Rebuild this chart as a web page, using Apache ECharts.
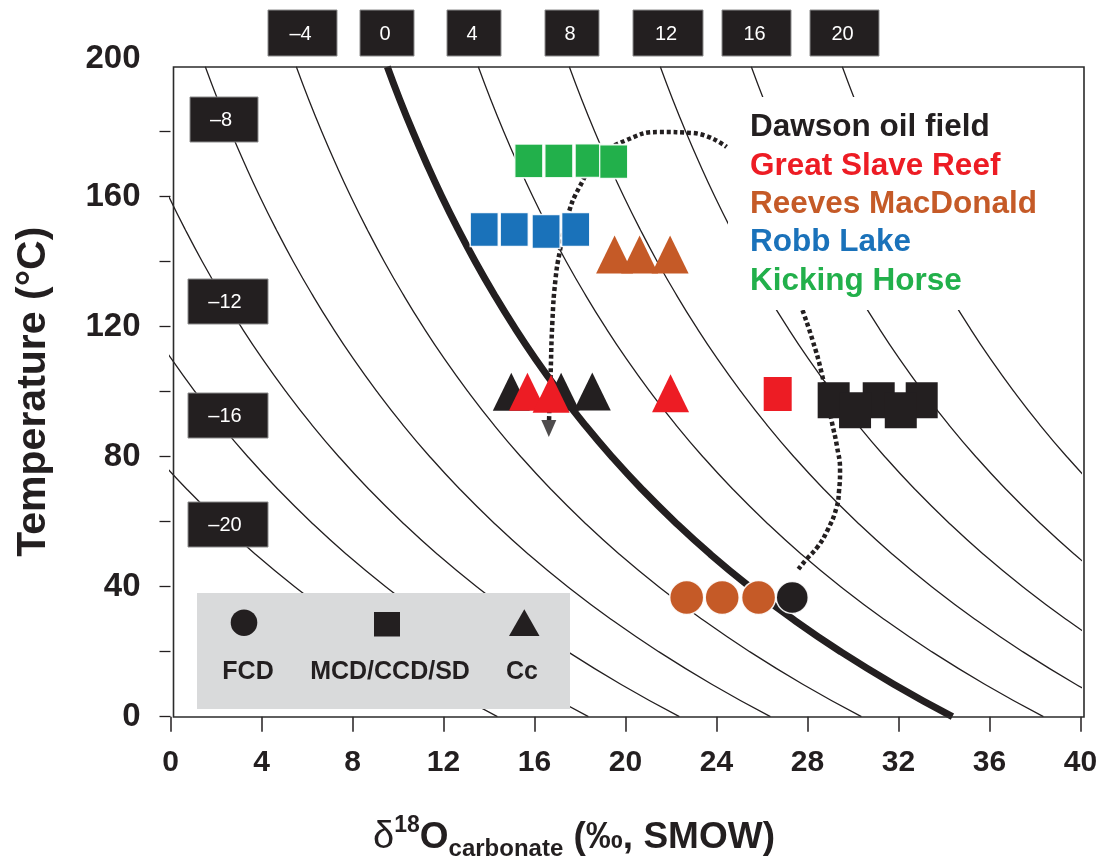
<!DOCTYPE html>
<html><head><meta charset="utf-8">
<script src="https://cdn.jsdelivr.net/npm/echarts@6/dist/echarts.min.js"></script>
<style>html,body{margin:0;padding:0;background:#fff}#c{width:1097px;height:857px}</style>
</head><body><div id="c"></div>
<script>
// ---- temperatures (°C) at which each water-δ18O isoline was read ----
const curveTemps = [0,10,20,30,40,50,60,70,80,90,100,110,120,130,140,150,160,170,180,190,200];
// ---- δ18O carbonate values along each isoline (δ18O water label) ----
const waterLabels = ['–20','–16','–12','–8','–4','0','4','8','12','16','20'];
const curveWm20 = [14.37,11.79,9.46,7.36,5.46,3.73,2.16,0.72,-0.60,-1.81];
const curveWm16 = [18.37,15.79,13.46,11.36,9.46,7.73,6.16,4.72,3.40,2.19,1.08,0.05,-0.90];
const curveWm12 = [22.37,19.79,17.46,15.36,13.46,11.73,10.16,8.72,7.40,6.19,5.08,4.05,3.10,2.22,1.40,0.64,-0.07,-0.73];
const curveWm8  = [26.37,23.79,21.46,19.36,17.46,15.73,14.16,12.72,11.40,10.19,9.08,8.05,7.10,6.22,5.40,4.64,3.93,3.27,2.65,2.07,1.53];
const curveWm4  = [30.37,27.79,25.46,23.36,21.46,19.73,18.16,16.72,15.40,14.19,13.08,12.05,11.10,10.22,9.40,8.64,7.93,7.27,6.65,6.07,5.53];
const curveW0   = [34.37,31.79,29.46,27.36,25.46,23.73,22.16,20.72,19.40,18.19,17.08,16.05,15.10,14.22,13.40,12.64,11.93,11.27,10.65,10.07,9.53];
const curveW4   = [38.37,35.79,33.46,31.36,29.46,27.73,26.16,24.72,23.40,22.19,21.08,20.05,19.10,18.22,17.40,16.64,15.93,15.27,14.65,14.07,13.53];
const curveW8   = [42.37,39.79,37.46,35.36,33.46,31.73,30.16,28.72,27.40,26.19,25.08,24.05,23.10,22.22,21.40,20.64,19.93,19.27,18.65,18.07,17.53];
const curveW12  = [46.37,43.79,41.46,39.36,37.46,35.73,34.16,32.72,31.40,30.19,29.08,28.05,27.10,26.22,25.40,24.64,23.93,23.27,22.65,22.07,21.53];
const curveW16  = [50.37,47.79,45.46,43.36,41.46,39.73,38.16,36.72,35.40,34.19,33.08,32.05,31.10,30.22,29.40,28.64,27.93,27.27,26.65,26.07,25.53];
const curveW20  = [54.37,51.79,49.46,47.36,45.46,43.73,42.16,40.72,39.40,38.19,37.08,36.05,35.10,34.22,33.40,32.64,31.93,31.27,30.65,30.07,29.53];
const curves = [curveWm20,curveWm16,curveWm12,curveWm8,curveWm4,curveW0,curveW4,curveW8,curveW12,curveW16,curveW20];

// ---- samples: [δ18O carbonate, temperature] ----
const dawsonCc  = [[14.98,100.0],[17.17,100.0],[18.54,100.1]];
const gsrCc     = [[15.69,100.0],[16.73,99.4],[21.98,99.5]];
const gsrSq     = [[26.69,99.3]];
const reevesCc  = [[19.52,142.2],[20.62,142.2],[21.96,142.2]];
const reevesFcd = [[22.69,36.7],[24.25,36.7],[25.85,36.7]];
const dawsonFcd = [[27.33,36.7]];
const robbSq    = [[13.79,149.9],[15.11,149.9],[16.51,149.3],[17.81,149.9]];
const khSq      = [[15.75,171.0],[17.07,171.0],[18.40,171.1],[19.48,170.8]];
const dawsonSq  = [[29.15,97.4],[31.13,97.4],[33.02,97.4],[30.09,94.3],[32.10,94.3]];

// ---- dotted paths ----
const pathArrow = [[16.64,91.3],[16.70,103.6],[16.79,122.1],[16.92,134.4],[17.10,142.7],[17.45,153.8],[17.98,163.0],[18.86,172.2],[20.04,177.4],[21.49,179.9],[22.95,179.6],[24.44,175.3]];
const arrowTip  = [[16.63,88.7]];
const pathDawson = [[27.78,125.1],[28.22,115.9],[28.62,105.8],[29.07,90.7],[29.30,83.0],[29.43,75.9],[29.39,69.8],[29.27,64.2],[28.88,57.4],[28.44,52.2],[28.00,48.8],[27.60,45.4]];

// ---- text / ticks ----
const xTicks = [0,4,8,12,16,20,24,28,32,36,40];
const yTickValues = [0,20,40,60,80,100,120,140,160,180];
const topLabels = ['–4','0','4','8','12','16','20'];
const leftLabels = ['–8','–12','–16','–20'];
const siteNames = ['Dawson oil field','Great Slave Reef','Reeves MacDonald','Robb Lake','Kicking Horse'];
const typeNames = ['FCD','MCD/CCD/SD','Cc'];

const INK = '#231f20', RED = '#ed1c24', ORANGE = '#c55a27', BLUE = '#1a72ba', GREEN = '#22b04b';
const FONT = "'Liberation Sans', Arial, Helvetica, sans-serif";
const siteColors = [INK, RED, ORANGE, BLUE, GREEN];

// label box geometry (pixels)
const topBoxes = [[268,69],[360,54],[447,54],[545,54],[633,70],[722,69],[810,69]];
const leftBoxes = [[190,97,68],[188,279,80],[188,393,80],[188,502,80]];

const series = [];
curves.forEach((arr, i) => {
  series.push({
    type: 'line', name: 'w' + waterLabels[i], silent: true, z: 2,
    data: arr.map((v, k) => [v, curveTemps[k]]),
    showSymbol: false, symbol: 'none', smooth: true,
    lineStyle: {color: INK, width: waterLabels[i] === '0' ? 7 : 1.3}
  });
});
const sc = (name, data, symbol, size, color, border) => ({
  type: 'scatter', name, data, symbol, symbolSize: size, z: 3,
  itemStyle: {color, borderColor: border ? 'rgba(255,255,255,0.9)' : color, borderWidth: border ? 1.5 : 0, opacity: 1}
});
series.push(sc('Robb Lake', robbSq, 'rect', [28,34], BLUE, true));
series.push(sc('Kicking Horse', khSq, 'rect', [28,34], GREEN, true));
series.push(sc('Dawson Cc', dawsonCc, 'triangle', [37,38], INK, false));
series.push(sc('GSR Cc', gsrCc, 'triangle', [37,38], RED, false));
series.push(sc('GSR sq', gsrSq, 'rect', [28,34], RED, false));
series.push(sc('Reeves Cc', reevesCc, 'triangle', [37,38], ORANGE, false));
series.push(sc('Reeves FCD', reevesFcd, 'circle', 34, ORANGE, true));
series.push(sc('Dawson FCD', dawsonFcd, 'circle', 32, INK, true));
const dotted = (data) => ({
  type: 'line', data, smooth: true, showSymbol: false, symbol: 'none', z: 3, silent: true,
  lineStyle: {color: INK, width: 4.5, type: [4, 2.8], cap: 'butt'}
});
series.push(dotted(pathArrow));
series.push(dotted(pathDawson));
series.push({type: 'scatter', data: arrowTip, symbol: 'triangle', symbolRotate: 180, symbolSize: [15,17], z: 3, itemStyle: {color: INK}});
series.push(sc('Dawson MCD', dawsonSq, 'rect', [32,36], INK, false));

const graphic = [];
// frame
graphic.push({type: 'rect', z: 70, silent: true, shape: {x: 173.5, y: 67, width: 910.5, height: 650}, style: {fill: 'none', stroke: '#2b2b2b', lineWidth: 1.6}});
// white panel behind site names
graphic.push({type: 'rect', z: 50, silent: true, shape: {x: 728, y: 97, width: 345, height: 213}, style: {fill: '#fff'}});
siteNames.forEach((t, i) => graphic.push({type: 'text', z: 60, x: 750, y: 127.5 + i * 38.4,
  style: {text: t, fill: siteColors[i], font: 'bold 31.5px ' + FONT, textAlign: 'left', textVerticalAlign: 'middle', verticalAlign: 'middle'}}));
// top label boxes
topBoxes.forEach((b, i) => {
  graphic.push({type: 'rect', z: 50, silent: true, shape: {x: b[0], y: 10, width: b[1], height: 46}, style: {fill: INK, stroke: '#8c8c8c', lineWidth: 1}});
  graphic.push({type: 'text', z: 60, x: b[0] + b[1] / 2 - 2, y: 34,
    style: {text: topLabels[i], fill: '#fff', font: '20px ' + FONT, textAlign: 'center', textVerticalAlign: 'middle', verticalAlign: 'middle'}});
});
leftBoxes.forEach((b, i) => {
  graphic.push({type: 'rect', z: 50, silent: true, shape: {x: b[0], y: b[1], width: b[2], height: 45}, style: {fill: INK, stroke: '#8c8c8c', lineWidth: 1}});
  graphic.push({type: 'text', z: 60, x: b[0] + b[2] / 2 - 3, y: b[1] + 23,
    style: {text: leftLabels[i], fill: '#fff', font: '20px ' + FONT, textAlign: 'center', textVerticalAlign: 'middle', verticalAlign: 'middle'}});
});
// symbol-type key
graphic.push({type: 'rect', z: 50, silent: true, shape: {x: 197, y: 593, width: 373, height: 116}, style: {fill: '#d9dadb'}});
graphic.push({type: 'circle', z: 60, shape: {cx: 244, cy: 622.7, r: 13.3}, style: {fill: INK}});
graphic.push({type: 'rect', z: 60, shape: {x: 374, y: 612, width: 26, height: 24.5}, style: {fill: INK}});
graphic.push({type: 'polygon', z: 60, shape: {points: [[524.3, 609.3], [539.5, 636], [509, 636]]}, style: {fill: INK}});
[248, 390, 522].forEach((cx, i) => graphic.push({type: 'text', z: 60, x: cx, y: 672,
  style: {text: typeNames[i], fill: INK, font: 'bold 25px ' + FONT, textAlign: 'center', textVerticalAlign: 'middle', verticalAlign: 'middle'}}));

const chart = echarts.init(document.getElementById('c'), null, {renderer: 'canvas'});
chart.setOption({
  animation: false,
  backgroundColor: '#fff',
  grid: {left: 170.5, top: 66.7, width: 910, height: 650, containLabel: false, outerBoundsMode: 'none'},
  xAxis: {
    type: 'value', min: xTicks[0], max: xTicks[xTicks.length - 1], interval: 4,
    splitLine: {show: false}, axisLine: {show: false},
    axisTick: {show: true, length: 15, lineStyle: {color: INK, width: 1.5}},
    axisLabel: {margin: 31, color: INK, fontSize: 30, fontWeight: 'bold', fontFamily: FONT},
    name: '{d|δ}{sup|18}{m|O}{sub|carbonate}{m| (‰, SMOW)}',
    nameLocation: 'middle', nameGap: 97,
    nameTextStyle: {color: INK, fontFamily: FONT, padding: [0, 103, 0, 0], rich: {
      d: {fontSize: 38, fontWeight: 'normal', fontFamily: FONT, color: INK, lineHeight: 48},
      m: {fontSize: 37, fontWeight: 'bold', fontFamily: FONT, color: INK, lineHeight: 48},
      sup: {fontSize: 23, fontWeight: 'bold', fontFamily: FONT, color: INK, verticalAlign: 'top', lineHeight: 26},
      sub: {fontSize: 24, fontWeight: 'bold', fontFamily: FONT, color: INK, verticalAlign: 'bottom', lineHeight: 30}
    }}
  },
  yAxis: {
    type: 'value', min: 0, max: 200, interval: 20,
    splitLine: {show: false}, axisLine: {show: false},
    axisTick: {show: true, length: 11, customValues: yTickValues, lineStyle: {color: INK, width: 1.3}},
    axisLabel: {margin: 30, color: INK, fontSize: 33, fontWeight: 'bold', fontFamily: FONT,
      formatter: v => v % 40 === 0 ? (v === 200 ? '{hi|200}' : String(v)) : '',
      rich: {hi: {fontSize: 33, fontWeight: 'bold', fontFamily: FONT, color: INK, padding: [0, 0, 16, 0]}}},
    name: 'Temperature (°C)', nameLocation: 'middle', nameGap: 116,
    nameTextStyle: {color: INK, fontSize: 41, fontWeight: 'bold', fontFamily: FONT}
  },
  series,
  graphic
});
</script></body></html>
